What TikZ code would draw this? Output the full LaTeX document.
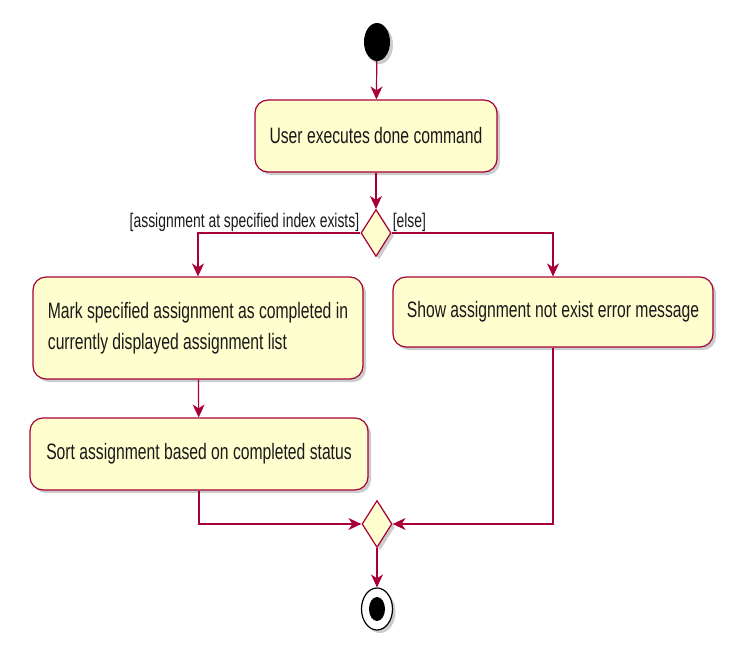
\documentclass[tikz,border=0pt]{standalone}
\usepackage{fontspec}
\setmainfont{Liberation Sans}
\usepackage{graphicx}
\usetikzlibrary{shapes.geometric,shadows,arrows.meta}

\definecolor{umlred}{HTML}{A80036}
\definecolor{umlfill}{HTML}{FEFECE}
\newcommand{\tallt}[1]{\scalebox{1}[1.42]{#1}}

\begin{document}
\begin{tikzpicture}[
    x=1pt, y=-1pt,
    shade/.style={drop shadow={opacity=0.4, shadow xshift=3pt, shadow yshift=-3pt}},
    action/.style={rectangle, draw=umlred, fill=umlfill, line width=1.2pt, rounded corners=13pt, align=center, inner sep=0pt, font=\fontsize{15.7}{21.7}\selectfont, text=black!90, shade},
    decision/.style={diamond, draw=umlred, fill=umlfill, line width=1.2pt, minimum width=30pt, minimum height=47pt, inner sep=0pt, shade},
    guard/.style={font=\fontsize{13.9}{16}\selectfont, text=black!90, inner sep=1pt},
    flow/.style={draw=umlred, line width=1.2pt, -{Stealth[length=13pt, width=12pt, inset=4pt]}}
]
\useasboundingbox (0,0) rectangle (739,656);

% Start and end
\node[ellipse, fill=black, minimum width=26pt, minimum height=38pt, inner sep=0pt, shade] (start) at (377,42) {};
\node[ellipse, draw=black, fill=white, line width=1.2pt, minimum width=31pt, minimum height=42pt, inner sep=0pt, shade] (stop) at (377,609) {};
\node[ellipse, fill=black, minimum width=16pt, minimum height=24pt, inner sep=0pt] (stopdot) at (377,609) {};

% Actions
\node[action, minimum width=242pt, minimum height=72pt] (done) at (376,136) {\tallt{User executes done command}};
\node[action, minimum width=330pt, minimum height=102pt] (mark) at (198,328) {\tallt{\begin{tabular}{@{}l@{}}Mark specified assignment as completed in\\currently displayed assignment list\end{tabular}}};
\node[action, minimum width=320pt, minimum height=70pt] (error) at (553,312) {\tallt{Show assignment not exist error message}};
\node[action, minimum width=338pt, minimum height=72pt] (sort) at (199,454) {\tallt{Sort assignment based on completed status}};

% Decision and merge
\node[decision] (check) at (376,233) {};
\node[decision] (merge) at (377,524) {};

% Guards
\node[guard, anchor=south east] (yes) at (check.west) {\tallt{[assignment at specified index exists]}};
\node[guard, anchor=south west] (no) at (check.east) {\tallt{[else]}};

% Flow
\draw[flow] (start) -- (done);
\draw[flow] (done) -- (check);
\draw[flow] (check.west) -| (mark.north);
\draw[flow] (check.east) -| (error.north);
\draw[flow] (mark) -- (sort);
\draw[flow] (sort.south) |- (merge.west);
\draw[flow] (error.south) |- (merge.east);
\draw[flow] (merge) -- (stop);

\end{tikzpicture}
\end{document}
